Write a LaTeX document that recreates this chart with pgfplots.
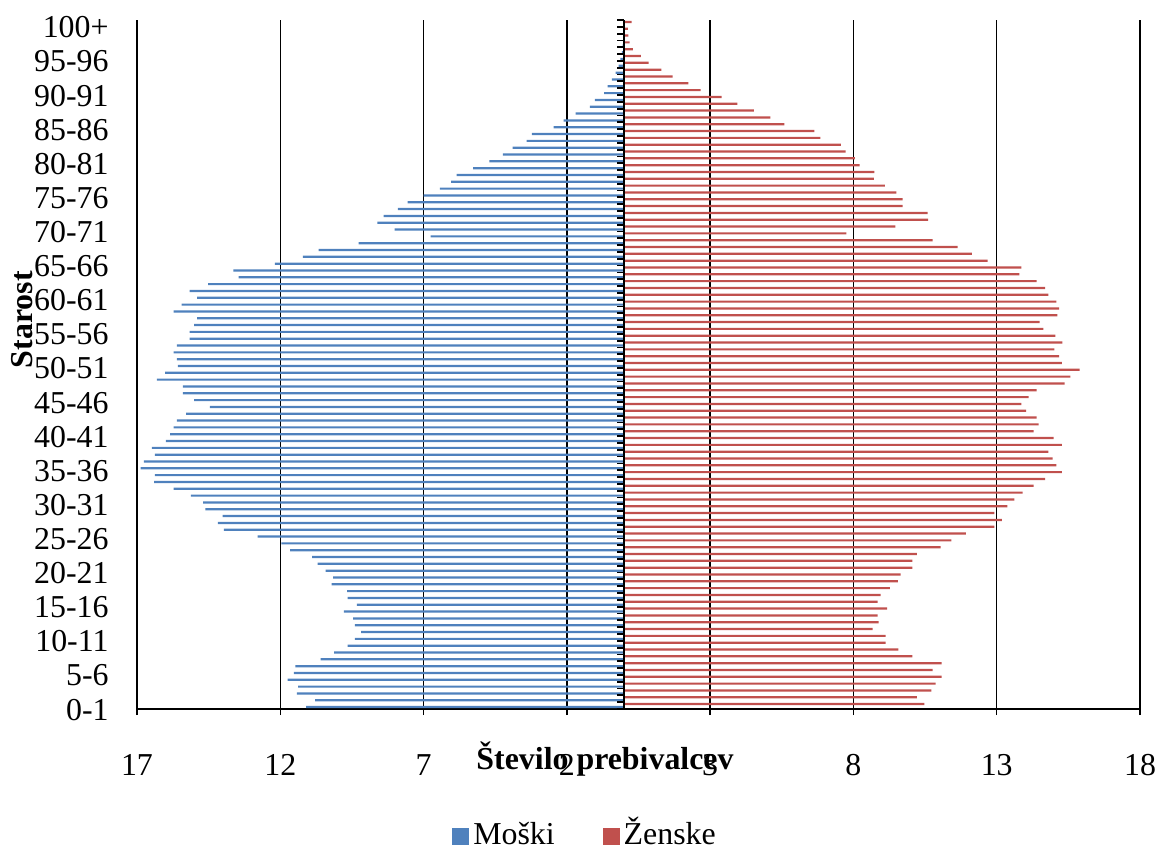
\documentclass[border=0pt]{standalone}
\usepackage{pgfplots}
\usepackage{pgfplotstable}
\usepackage{fontspec}
\setmainfont{Liberation Serif}
\pgfplotsset{compat=1.18}

\definecolor{moski}{RGB}{79,129,189}
\definecolor{zenske}{RGB}{192,80,77}

% age, men (Moški), women (Ženske)
\pgfplotstableread{
age m z
0 11.10 10.48
1 10.78 10.21
2 11.42 10.72
3 11.38 10.87
4 11.74 11.08
5 11.53 10.76
6 11.47 11.08
7 10.59 10.06
8 10.12 9.57
9 9.65 9.12
10 9.40 9.12
11 9.18 8.67
12 9.40 8.88
13 9.46 8.84
14 9.78 9.18
15 9.33 8.84
16 9.65 8.95
17 9.67 9.27
18 10.21 9.55
19 10.16 9.65
20 10.42 10.06
21 10.70 10.06
22 10.89 10.21
23 11.66 11.04
24 11.96 11.42
25 12.79 11.92
26 13.97 12.92
27 14.18 13.18
28 14.01 12.92
29 14.61 13.37
30 14.69 13.62
31 15.12 13.90
32 15.72 14.29
33 16.40 14.69
34 16.38 15.27
35 16.87 15.08
36 16.76 14.95
37 16.38 14.80
38 16.48 15.27
39 15.99 14.99
40 15.84 14.29
41 15.72 14.46
42 15.61 14.39
43 15.29 14.03
44 14.46 13.86
45 15.01 14.11
46 15.40 14.39
47 15.40 15.37
48 16.31 15.57
49 16.02 15.89
50 15.57 15.27
51 15.61 15.18
52 15.72 15.01
53 15.61 15.29
54 15.16 15.05
55 15.16 14.63
56 15.01 14.50
57 14.90 15.12
58 15.72 15.18
59 15.44 15.08
60 14.90 14.80
61 15.16 14.69
62 14.52 14.39
63 13.45 13.79
64 13.64 13.86
65 12.19 12.68
66 11.21 12.13
67 10.66 11.64
68 9.27 10.76
69 6.75 7.75
70 8.01 9.46
71 8.61 10.61
72 8.39 10.59
73 7.90 9.72
74 7.56 9.72
75 7.00 9.50
76 6.43 9.10
77 6.04 8.71
78 5.85 8.73
79 5.27 8.22
80 4.70 8.05
81 4.23 7.73
82 3.89 7.56
83 3.40 6.85
84 3.22 6.64
85 2.46 5.59
86 2.11 5.10
87 1.69 4.53
88 1.20 3.95
89 1.02 3.40
90 0.70 2.67
91 0.58 2.24
92 0.43 1.69
93 0.30 1.30
94 0.19 0.85
95 0.13 0.58
96 0.08 0.30
97 0.05 0.19
98 0.03 0.15
99 0.02 0.13
100 0.01 0.26
}\pyramid

\begin{document}
\begin{tikzpicture}
\begin{axis}[
  scale only axis,
  width=501.5bp, height=344.5bp,
  xmin=-17, xmax=18, ymin=-0.5, ymax=100.5,
  xbar, bar width=1.1bp,
  xtick={-17,-12,-7,-2,3,8,13,18},
  xticklabels={17,12,7,2,3,8,13,18},
  ytick={0,5,...,100},
  yticklabels={0-1,5-6,10-11,15-16,20-21,25-26,30-31,35-36,40-41,45-46,50-51,55-56,60-61,65-66,70-71,75-76,80-81,85-86,90-91,95-96,100+},
  axis x line*=bottom, axis y line*=left,
  x axis line style={-, black, line width=1bp},
  y axis line style={draw=none},
  ytick style={draw=none},
  xtick style={black, line width=0.75bp},
  xtick align=outside, major tick length=3bp,
  xmajorgrids, grid style={black, line width=0.75bp},
  tick label style={font=\fontsize{16}{19}\selectfont},
  xticklabel style={anchor=base, yshift=-30bp},
  yticklabel style={anchor=east, xshift=-7.7bp, yshift=-2bp},
  xlabel={Število prebivalcev},
  xlabel style={at={(axis description cs:0.4666,-0.0885)}, anchor=base, font=\fontsize{16}{19}\selectfont\bfseries},
  ylabel={Starost},
  ylabel style={at={(axis description cs:-0.1147,0.565)}, anchor=center, font=\fontsize{16}{19}\selectfont\bfseries},
  legend style={at={(axis description cs:0.4477,-0.1850)}, anchor=center, draw=none,
    font=\fontsize{16}{19}\selectfont, legend columns=2,
    nodes={text height=12pt, text depth=4pt},
    /tikz/every even column/.append style={column sep=22bp}},
  legend image code/.code={\fill[#1] (-3bp,-4.5bp) rectangle (5.5bp,4bp);},
]
\addplot[draw=none, fill=moski, bar shift=-0.75bp] table[x expr=-\thisrow{m}, y=age] {\pyramid};
\addplot[draw=none, fill=zenske, bar shift=0.75bp] table[x=z, y=age] {\pyramid};
\legend{Moški, Ženske}
\draw[black, line width=1bp] (axis cs:0,-0.5) -- (axis cs:0,100.5);
\pgfplotsinvokeforeach{0,...,101}{%
  \draw[black, line width=0.9bp] (axis cs:0,{#1-0.5}) -- ([xshift=-3.5bp]axis cs:0,{#1-0.5});}
\end{axis}
\pgfresetboundingbox
\path (-68.5bp,-70bp) rectangle (510.5bp,354.5bp);
\end{tikzpicture}
\end{document}
